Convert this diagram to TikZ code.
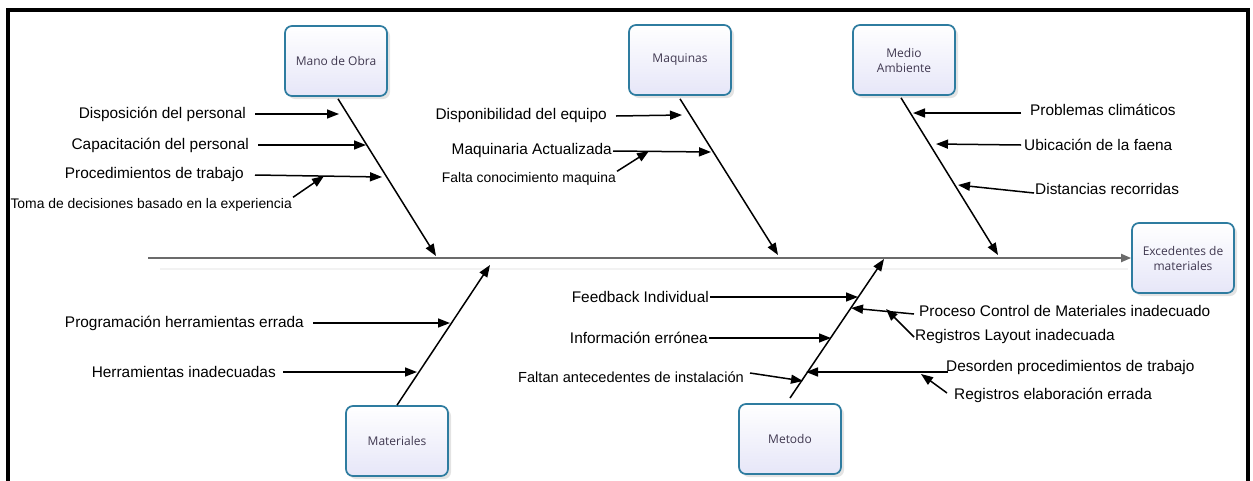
\documentclass[tikz,border=0pt]{standalone}
\usepackage{fontspec}
\setmainfont{Liberation Sans}
\newfontfamily\boxfont{Open Sans}
\usetikzlibrary{arrows.meta,shadows}
\definecolor{boxedge}{RGB}{46,124,160}
\definecolor{boxfill}{RGB}{230,230,248}
\definecolor{boxtext}{RGB}{64,56,80}
\tikzset{
  category/.style={draw=boxedge, line width=1.7pt, rounded corners=7pt,
    top color=white, bottom color=boxfill,
    minimum width=102pt, minimum height=70pt, align=center,
    font=\boxfont\fontsize{12}{15}\selectfont, text=boxtext,
    drop shadow={shadow xshift=3pt, shadow yshift=-3pt, opacity=0.22}},
  cause/.style={font=\fontsize{15.4}{17}\selectfont, inner sep=1pt, text=black},
  smallcause/.style={cause, font=\fontsize{13.9}{16}\selectfont},
  midcause/.style={cause, font=\fontsize{14.6}{16}\selectfont},
  bone/.style={line width=1.5pt, -{Triangle[length=12pt,width=9pt]}},
  twig/.style={line width=1.5pt, -{Triangle[length=12pt,width=9pt]}},
  spine/.style={line width=1.9pt, draw=black!58, -{Triangle[length=10pt,width=8pt]}}
}
\begin{document}
\begin{tikzpicture}[x=1pt,y=-1pt]
\useasboundingbox (0,0) rectangle (1253,480);
\clip (0,0) rectangle (1253,480);
% outer frame
\draw[line width=3.6pt] (8,10) rectangle (1248,500);

% category boxes and effect
\node[category] (mano) at (336,61) {Mano de Obra};
\node[category] (maq)  at (680,60) {Maquinas};
\node[category] (medio) at (904,60) {Medio\\Ambiente};
\node[category] (efecto) at (1183,258) {Excedentes de\\materiales};
\node[category] (mat) at (397,441) {Materiales};
\node[category] (met) at (790,439) {Metodo};

% spine
\coordinate (tail) at (148,258);
\draw[black!5, line width=1.5pt] (160,269) -- (1128,269);
\draw[spine] (tail) -- (efecto.west);

% bone end points on the spine
\coordinate (manoTip) at (436,256);
\coordinate (maqTip) at (778,255);
\coordinate (medioTip) at (998,255);
\coordinate (matTip) at (490,265);
\coordinate (metTip) at (884,259);
\coordinate (metRoot) at (790,398);

\draw[bone] (mano.south) ++(2,2) -- (manoTip);
\draw[bone] (maq.south) ++(0,3) -- (maqTip);
\draw[bone] (medio.south) ++(-3,2) -- (medioTip);
\draw[bone] (mat.north) -- (matTip);
\draw[bone] (metRoot) -- (metTip);

% Mano de Obra
\node[cause, anchor=east] (c1) at (247,114) {Disposición del personal};
\node[cause, anchor=east] (c2) at (250,145) {Capacitación del personal};
\node[cause, anchor=east] (c3) at (245,175) {Procedimientos de trabajo};
\node[smallcause, anchor=east] (c4) at (293,205) {Toma de decisiones basado en la experiencia};
\coordinate (c1t) at (339,114);
\coordinate (c2t) at (366,145);
\coordinate (c3t) at (382,177);
\coordinate (c4t) at (324,176);
\draw[twig] ([xshift=8pt]c1.east) -- (c1t);
\draw[twig] ([xshift=8pt]c2.east) -- (c2t);
\draw[twig] ([xshift=10pt]c3.east) -- (c3t);
\draw[twig] (c4.north east) -- (c4t);

% Maquinas
\node[cause, anchor=east] (q1) at (608,116) {Disponibilidad del equipo};
\node[cause, anchor=east] (q2) at (613,151) {Maquinaria Actualizada};
\node[smallcause, anchor=east] (q3) at (617,179) {Falta conocimiento maquina};
\coordinate (q1t) at (682,115);
\coordinate (q2t) at (711,152);
\coordinate (q3t) at (649,151);
\draw[twig] ([xshift=8pt]q1.east) -- (q1t);
\draw[twig] (q2.east) -- (q2t);
\draw[twig] (q3.north east) -- (q3t);

% Medio Ambiente
\node[cause, anchor=west] (e1) at (1029,110) {Problemas climáticos};
\node[cause, anchor=west] (e2) at (1023,145) {Ubicación de la faena};
\node[cause, anchor=west] (e3) at (1034,189) {Distancias recorridas};
\coordinate (e1t) at (913,113);
\coordinate (e2t) at (936,144);
\coordinate (e3t) at (958,185);
\draw[twig] ([xshift=-8pt,yshift=-3pt]e1.west) -- (e1t);
\draw[twig] ([xshift=-2pt]e2.west) -- (e2t);
\draw[twig] ([yshift=-4pt]e3.west) -- (e3t);

% Materiales
\node[cause, anchor=east] (m1) at (305,323) {Programación herramientas errada};
\node[cause, anchor=east] (m2) at (277,372) {Herramientas inadecuadas};
\coordinate (m1t) at (450,323);
\coordinate (m2t) at (417,372);
\draw[twig] ([xshift=8pt]m1.east) -- (m1t);
\draw[twig] ([xshift=6pt]m2.east) -- (m2t);

% Metodo
\node[cause, anchor=east] (t1) at (710,297) {Feedback Individual};
\node[cause, anchor=east] (t2) at (709,338) {Información errónea};
\node[midcause, anchor=east] (t3) at (745,377) {Faltan antecedentes de instalación};
\node[cause, anchor=west] (t4) at (918,311) {Proceso Control de Materiales inadecuado};
\node[cause, anchor=west] (t5) at (914,337) {Registros Layout inadecuada};
\node[cause, anchor=west] (t6) at (945,368) {Desorden procedimientos de trabajo};
\node[cause, anchor=west] (t7) at (953,395) {Registros elaboración errada};
\coordinate (t1t) at (858,297);
\coordinate (t2t) at (831,338);
\coordinate (t3t) at (803,381);
\coordinate (t4t) at (851,308);
\coordinate (t5t) at (886,309);
\coordinate (t6t) at (806,372);
\coordinate (t7t) at (921,374);
\coordinate (t6s) at (948,372);
\draw[twig] (t1.east) -- (t1t);
\draw[twig] (t2.east) -- (t2t);
\draw[twig] ([xshift=5pt,yshift=4pt]t3.east) -- (t3t);
\draw[twig] ([xshift=-4pt,yshift=-3pt]t4.west) -- (t4t);
\draw[twig] (t5.west) -- (t5t);
\draw[twig] (t6s) -- (t6t);
\draw[twig] ([xshift=-6pt,yshift=2pt]t7.west) -- (t7t);
\end{tikzpicture}
\end{document}
